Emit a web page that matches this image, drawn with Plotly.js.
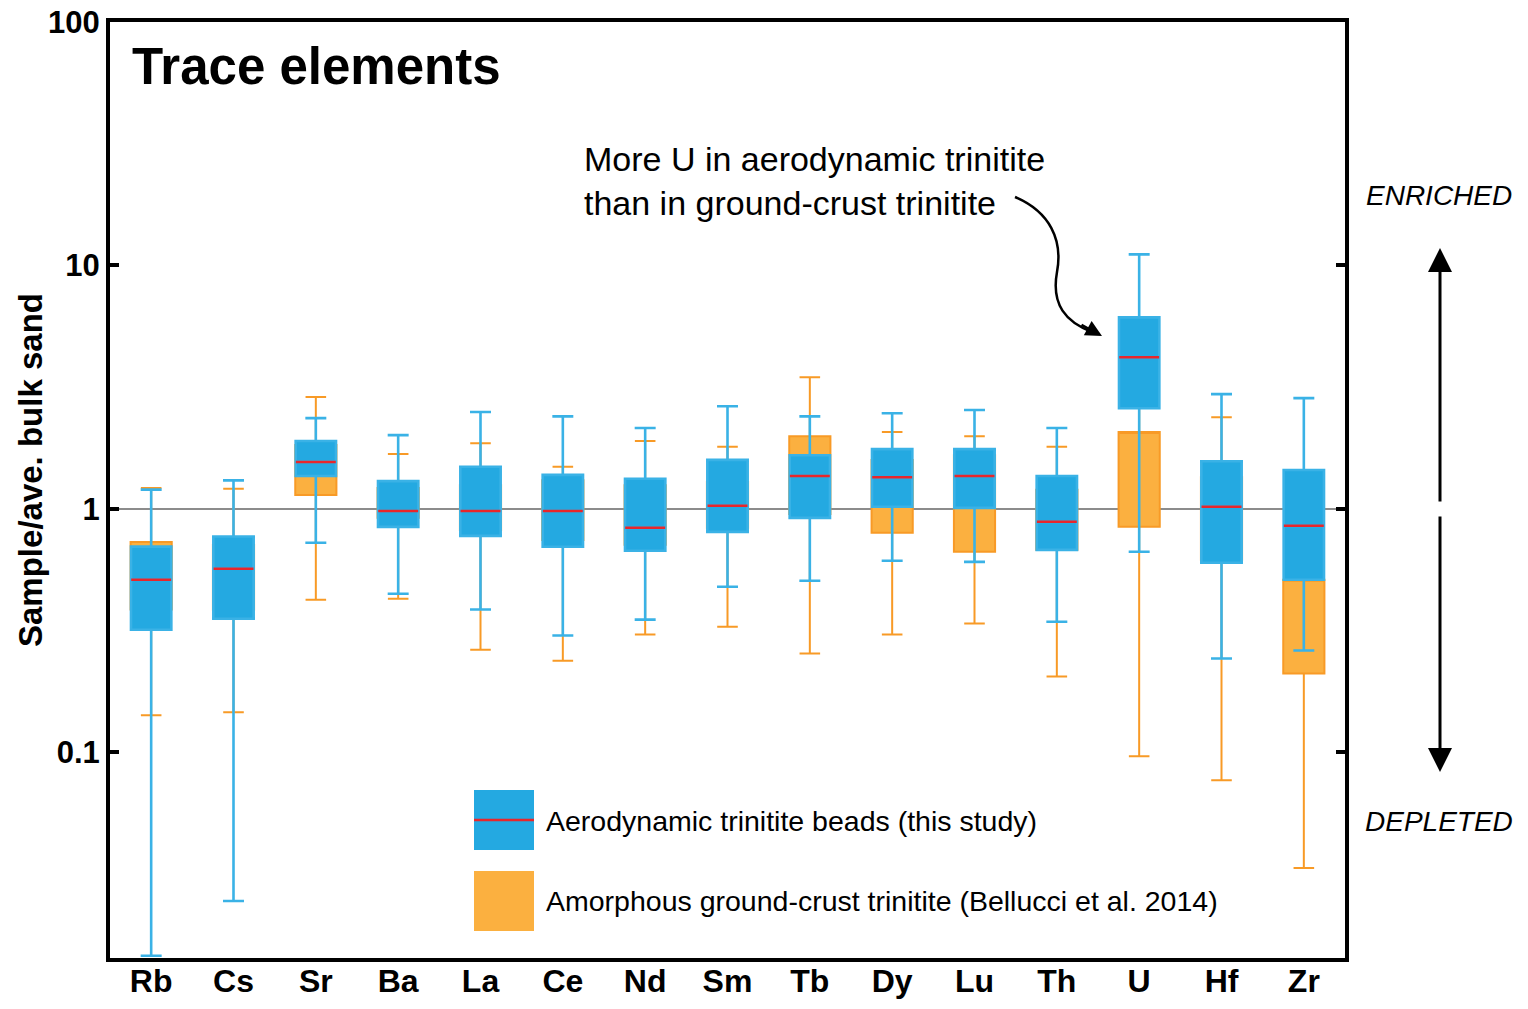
<!DOCTYPE html>
<html>
<head>
<meta charset="utf-8">
<script src="https://cdn.plot.ly/plotly-3.0.1.min.js"></script>
<style>html,body{margin:0;padding:0;background:#fff;}#chart{width:1528px;height:1009px;}</style>
</head>
<body>
<div id="chart"></div>
<script>
// Categories (elements)
const elements = ['Rb','Cs','Sr','Ba','La','Ce','Nd','Sm','Tb','Dy','Lu','Th','U','Hf','Zr'];

// Aerodynamic trinitite beads (this study)
const aeroUpper  = [1.20, 1.31, 2.36, 2.01, 2.50, 2.40, 2.15, 2.64, 2.40, 2.47, 2.55, 2.15, 11.1, 2.96, 2.85];
const aeroQ3     = [0.70, 0.77, 1.90, 1.30, 1.49, 1.38, 1.33, 1.59, 1.66, 1.76, 1.76, 1.365, 6.12, 1.57, 1.445];
const aeroMedian = [0.512, 0.568, 1.56, 0.98, 0.98, 0.98, 0.836, 1.03, 1.365, 1.35, 1.365, 0.885, 4.20, 1.02, 0.852];
const aeroQ1     = [0.319, 0.354, 1.365, 0.844, 0.775, 0.699, 0.673, 0.805, 0.919, 1.02, 1.01, 0.679, 2.59, 0.601, 0.512];
const aeroLower  = [0.0146, 0.0245, 0.726, 0.448, 0.386, 0.302, 0.351, 0.479, 0.507, 0.612, 0.606, 0.344, 0.667, 0.243, 0.262];

// Amorphous ground-crust trinitite (Bellucci et al. 2014) — medians not shown in the figure
const crustUpper  = [1.22, 1.21, 2.88, 1.68, 1.86, 1.49, 1.90, 1.80, 3.47, 2.07, 1.99, 1.80, 3.0, 2.38, 0.9];
const crustQ3     = [0.732, 0.712, 1.83, 1.22, 1.25, 1.31, 1.25, 1.29, 1.99, 1.59, 1.66, 1.20, 2.07, 1.35, 0.512];
const crustMedian = [0.50, 0.55, 1.45, 1.05, 1.0, 1.0, 0.95, 1.0, 1.3, 1.1, 1.1, 0.9, 2.07, 0.95, 0.512];
const crustQ1     = [0.386, 0.386, 1.14, 0.919, 0.82, 0.746, 0.712, 0.836, 0.954, 0.798, 0.667, 0.679, 0.844, 0.618, 0.211];
const crustLower  = [0.142, 0.146, 0.424, 0.428, 0.264, 0.238, 0.305, 0.328, 0.255, 0.305, 0.338, 0.205, 0.0964, 0.0768, 0.0335];

const yTickVals = [0.1, 1, 10, 100];
const yTickText = ['0.1', '1', '10', '100'];

const BLUE_FILL = '#24A9E1', BLUE_LINE = '#3AB2E6';
const ORANGE_FILL = '#FBB040', ORANGE_LINE = '#F89A26';
const RED = '#E8262B';
const FONT = 'Liberation Sans, Arial, Helvetica, sans-serif';

const traces = [
  {
    type: 'box', name: 'Amorphous ground-crust trinitite (Bellucci et al. 2014)',
    x: elements, q1: crustQ1, median: crustMedian, q3: crustQ3,
    lowerfence: crustLower, upperfence: crustUpper,
    boxpoints: false, width: 0.5, whiskerwidth: 0.5,
    fillcolor: ORANGE_FILL, line: {color: ORANGE_LINE, width: 2},
    hoverinfo: 'skip', showlegend: false
  },
  {
    type: 'box', name: 'Aerodynamic trinitite beads (this study)',
    x: elements, q1: aeroQ1, median: aeroMedian, q3: aeroQ3,
    lowerfence: aeroLower, upperfence: aeroUpper,
    boxpoints: false, width: 0.49, whiskerwidth: 0.52,
    fillcolor: BLUE_FILL, line: {color: BLUE_LINE, width: 2.6},
    hoverinfo: 'skip', showlegend: false
  },
  {
    type: 'scatter', mode: 'markers', x: elements, y: aeroMedian,
    marker: {symbol: 'line-ew', size: 28.5, color: RED, line: {color: RED, width: 2.5}},
    hoverinfo: 'skip', showlegend: false
  }
];

// pixel -> paper helpers for decorations
const L = 110, R = 1345, T = 22, B = 958;
const px = X => (X - L) / (R - L);
const py = Y => (B - Y) / (B - T);

const curve = `M ${px(1015)},${py(197)} C ${px(1050)},${py(212)} ${px(1063)},${py(240)} ${px(1057)},${py(272)} C ${px(1051)},${py(305)} ${px(1066)},${py(322)} ${px(1092)},${py(332)}`;

const layout = {
  width: 1528, height: 1009,
  margin: {l: L, r: 1528 - R, t: T, b: 1009 - B},
  paper_bgcolor: '#fff', plot_bgcolor: '#fff',
  boxmode: 'overlay',
  showlegend: false,
  font: {family: FONT, color: '#000'},
  xaxis: {
    type: 'category', range: [-0.5, 14.5],
    showline: true, linecolor: '#000', linewidth: 4, mirror: true,
    ticks: '', showgrid: false, zeroline: false, ticklabelstandoff: -8,
    tickfont: {family: FONT, size: 32, weight: 'bold', color: '#000'}
  },
  yaxis: {
    type: 'log', range: [Math.log10(0.0143), 2.0],
    tickvals: yTickVals, ticktext: yTickText,
    showline: true, linecolor: '#000', linewidth: 4, mirror: 'ticks',
    ticks: 'inside', ticklen: 9, tickwidth: 4, tickcolor: '#000',
    showgrid: false, zeroline: false,
    tickfont: {family: FONT, size: 31, weight: 'bold', color: '#000'}
  },
  shapes: [
    {type: 'line', xref: 'paper', yref: 'y', x0: 0, x1: 1, y0: 1, y1: 1, layer: 'below',
     line: {color: '#8C8C8C', width: 2}},
    {type: 'path', xref: 'paper', yref: 'paper', path: curve, line: {color: '#000', width: 2.5}},
    {type: 'rect', xref: 'paper', yref: 'paper', x0: px(474), x1: px(534), y0: py(850), y1: py(790),
     fillcolor: BLUE_FILL, line: {width: 0}},
    {type: 'line', xref: 'paper', yref: 'paper', x0: px(474), x1: px(534), y0: py(820), y1: py(820),
     line: {color: RED, width: 2.5}},
    {type: 'rect', xref: 'paper', yref: 'paper', x0: px(474), x1: px(534), y0: py(931), y1: py(871),
     fillcolor: ORANGE_FILL, line: {width: 0}}
  ],
  annotations: [
    {xref: 'paper', yref: 'paper', x: px(31), y: py(470), xanchor: 'center', yanchor: 'middle', textangle: -90,
     text: 'Sample/ave. bulk sand', showarrow: false, font: {family: FONT, size: 33, weight: 'bold', color: '#000'}},
    {xref: 'paper', yref: 'paper', x: px(130), y: py(66), xanchor: 'left', yanchor: 'middle',
     text: 'Trace elements', showarrow: false, font: {family: FONT, size: 51, weight: 'bold', color: '#000'}},
    {xref: 'paper', yref: 'paper', x: px(582), y: py(181), xanchor: 'left', yanchor: 'middle', align: 'left',
     text: 'More U in aerodynamic trinitite<br>than in ground-crust trinitite', showarrow: false,
     font: {family: FONT, size: 34, color: '#000'}},
    {xref: 'paper', yref: 'paper', x: px(1102), y: py(336), text: '', showarrow: true,
     ax: -22, ay: -12, arrowhead: 2, arrowsize: 1.3, arrowwidth: 2.5, arrowcolor: '#000', standoff: 0},
    {xref: 'paper', yref: 'paper', x: px(1440), y: py(248), text: '', showarrow: true,
     ax: 0, ay: 255, arrowhead: 2, arrowsize: 1.6, arrowwidth: 3, arrowcolor: '#000', standoff: 0},
    {xref: 'paper', yref: 'paper', x: px(1440), y: py(772), text: '', showarrow: true,
     ax: 0, ay: -257, arrowhead: 2, arrowsize: 1.6, arrowwidth: 3, arrowcolor: '#000', standoff: 0},
    {xref: 'paper', yref: 'paper', x: px(1439), y: py(195), xanchor: 'center', yanchor: 'middle',
     text: 'ENRICHED', showarrow: false, font: {family: FONT, size: 28, style: 'italic', color: '#000'}},
    {xref: 'paper', yref: 'paper', x: px(1439), y: py(821), xanchor: 'center', yanchor: 'middle',
     text: 'DEPLETED', showarrow: false, font: {family: FONT, size: 28, style: 'italic', color: '#000'}},
    {xref: 'paper', yref: 'paper', x: px(544), y: py(821), xanchor: 'left', yanchor: 'middle',
     text: 'Aerodynamic trinitite beads (this study)', showarrow: false, font: {family: FONT, size: 28.5, color: '#000'}},
    {xref: 'paper', yref: 'paper', x: px(544), y: py(901), xanchor: 'left', yanchor: 'middle',
     text: 'Amorphous ground-crust trinitite (Bellucci et al. 2014)', showarrow: false, font: {family: FONT, size: 28.5, color: '#000'}}
  ]
};

Plotly.newPlot('chart', traces, layout, {staticPlot: true, displayModeBar: false});
</script>
</body>
</html>
